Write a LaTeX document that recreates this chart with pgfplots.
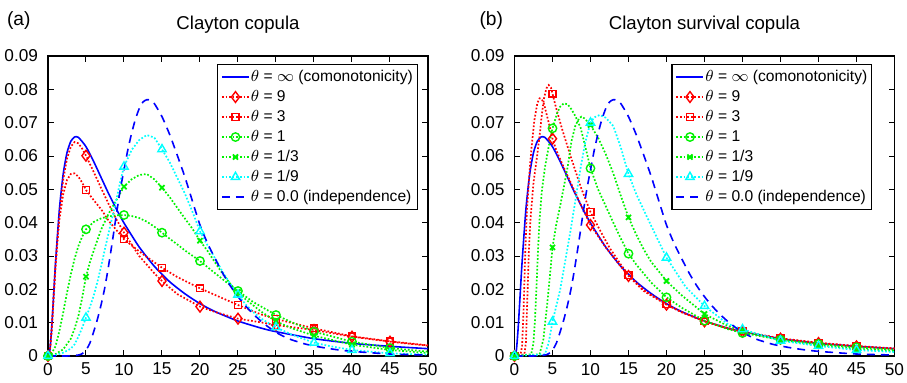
\documentclass[border=0pt]{standalone}
\usepackage{fontspec}
\setmainfont{Liberation Sans}
\usepackage{pgfplots}
\pgfplotsset{compat=1.18}
\definecolor{mgreen}{rgb}{0,0.95,0}
\definecolor{mcyan}{rgb}{0,1,1}
\definecolor{mred}{rgb}{1,0,0}
\definecolor{mblue}{rgb}{0,0,1}
\pgfplotsset{
  dotl/.style={line width=0.85pt, dash pattern=on 0.85pt off 0.95pt},
  soll/.style={line width=0.8pt, solid},
  dasl/.style={line width=0.8pt, dash pattern=on 4pt off 3pt},
  mkd/.style={only marks, mark=diamond, mark size=2.7pt, mark options={solid, line width=0.7pt}},
  mks/.style={only marks, mark=square, mark size=1.7pt, mark options={solid, line width=0.7pt}},
  mko/.style={only marks, mark=o, mark size=2.1pt, mark options={solid, line width=0.7pt}},
  mkx/.style={only marks, mark=x, mark size=1.8pt, mark options={solid, line width=0.9pt}},
  mkt/.style={only marks, mark=triangle, mark size=2.4pt, mark options={solid, line width=0.7pt}},
  myaxis/.style={
    width=190pt, height=150pt, scale only axis,
    xmin=0, xmax=50, ymin=0, ymax=0.09,
    xtick={0,5,10,15,20,25,30,35,40,45,50},
    ytick={0,0.01,0.02,0.03,0.04,0.05,0.06,0.07,0.08,0.09},
    tick align=inside, major tick length=2.8pt,
    axis line style={line width=0.6pt},
    every tick/.style={black, line width=0.5pt},
    scaled y ticks=false,
    yticklabel style={/pgf/number format/fixed, /pgf/number format/precision=2, xshift=-1.5pt},
    /pgf/number format/assume math mode=true,
    ticklabel style={font=\fontsize{8.6}{10}\selectfont},
    title style={at={(0.5,1)}, anchor=base, yshift=7.2pt, font=\fontsize{9.3}{11}\selectfont},
    clip=false,
    legend style={at={(1,1)}, anchor=north east, xshift=-5pt, yshift=-4pt,
      font=\fontsize{7.8}{9}\selectfont, draw=black, line width=0.6pt,
      inner sep=1.8pt, row sep=1.2pt,
      nodes={inner sep=0.5pt, text height=6pt, text depth=1.8pt}},
    legend cell align=left,
    legend image code/.code={\draw[mark repeat=2,mark phase=2,##1] plot coordinates {(0pt,0pt) (6.75pt,0pt) (13.5pt,0pt)};},
  }
}
\begin{document}
\begin{tikzpicture}
% ================= (a) =================
\begin{axis}[myaxis, name=a, title={Clayton copula}]
\addlegendimage{mblue, soll}
\addlegendentry{$\theta$ = $\infty$ (comonotonicity)}
\addlegendimage{mred, dotl, mark=diamond, mark size=2.7pt, mark options={solid, line width=0.7pt}}
\addlegendentry{$\theta$ = 9}
\addlegendimage{mred, dotl, mark=square, mark size=1.7pt, mark options={solid, line width=0.7pt}}
\addlegendentry{$\theta$ = 3}
\addlegendimage{mgreen, dotl, mark=o, mark size=2.1pt, mark options={solid, line width=0.7pt}}
\addlegendentry{$\theta$ = 1}
\addlegendimage{mgreen, dotl, mark=x, mark size=1.8pt, mark options={solid, line width=0.9pt}}
\addlegendentry{$\theta$ = 1/3}
\addlegendimage{mcyan, dotl, mark=triangle, mark size=2.4pt, mark options={solid, line width=0.7pt}}
\addlegendentry{$\theta$ = 1/9}
\addlegendimage{mblue, dasl}
\addlegendentry{$\theta$ = 0.0 (independence)}
% comonotonic
\addplot[forget plot, mblue, soll, smooth, tension=0.4] coordinates {(0,0) (0.25,0.0018) (0.5,0.009) (0.75,0.0186) (1,0.0282) (1.5,0.044) (2,0.0546) (2.5,0.061) (3,0.0644) (3.5,0.0657) (4,0.0656) (5,0.0628) (6,0.0584) (7,0.0535) (8,0.0486) (9,0.0441) (10,0.0399) (12,0.0327) (14,0.0269) (16,0.0223) (18,0.0187) (20,0.0157) (22,0.0133) (25,0.0105) (28,0.0084) (30,0.0073) (35,0.0052) (40,0.0038) (45,0.0029) (50,0.0022)};
% theta 9
\addplot[forget plot, mred, dotl] coordinates {(0,0) (0.25,0.0016) (0.5,0.0085) (0.75,0.018) (1,0.027) (1.5,0.042) (2,0.0528) (2.5,0.0592) (3,0.0628) (3.5,0.0642) (4,0.0638) (4.5,0.0622) (5,0.0601) (6,0.0553) (7,0.0503) (8,0.0455) (9,0.0410) (10,0.0370) (12,0.0300) (14,0.0248) (15,0.0225) (17,0.0186) (20,0.0148) (22,0.0132) (25,0.0112) (28,0.0101) (30,0.0093) (33,0.0084) (35,0.0078) (38,0.0066) (40,0.0058) (45,0.0043) (50,0.0031)};
\addplot[forget plot, mred, mkd] coordinates {(0,0) (5,0.0601) (10,0.037) (15,0.0225) (20,0.0148) (25,0.0112) (30,0.0093) (35,0.0078) (40,0.0058) (45,0.0043)};
% theta 3
\addplot[forget plot, mred, dotl] coordinates {(0,0) (0.25,0.0015) (0.5,0.008) (0.75,0.018) (1,0.028) (1.25,0.035) (1.5,0.041) (2,0.0485) (2.5,0.0528) (3,0.0546) (3.5,0.0548) (4,0.0538) (4.5,0.0520) (5,0.0498) (6,0.0468) (7,0.0440) (8,0.0405) (9,0.0378) (10,0.0350) (11,0.0332) (12,0.0314) (13,0.0297) (14,0.0281) (15,0.0265) (17,0.0237) (20,0.0203) (22,0.0183) (25,0.0153) (28,0.0125) (30,0.0111) (35,0.0083) (40,0.0059) (45,0.0044) (50,0.0032)};
\addplot[forget plot, mred, mks] coordinates {(0,0) (5,0.0498) (10,0.035) (15,0.0265) (20,0.0203) (25,0.0153) (30,0.0111) (35,0.0083) (40,0.0059) (45,0.0044)};
% theta 1
\addplot[forget plot, mgreen, dotl] coordinates {(0,0) (0.5,0.0008) (1,0.003) (1.5,0.0075) (2,0.013) (2.5,0.019) (3,0.0245) (3.5,0.0292) (4,0.0330) (4.5,0.0358) (5,0.0380) (6,0.0402) (7,0.0413) (8,0.0419) (9,0.0422) (10,0.0423) (11,0.0420) (12,0.0414) (13,0.0403) (14,0.0388) (15,0.0370) (16,0.0352) (17,0.0335) (18,0.0317) (20,0.0285) (22,0.0248) (24,0.0212) (25,0.0195) (27,0.0162) (30,0.0123) (32,0.0102) (35,0.0073) (40,0.0043) (45,0.0024) (50,0.0013)};
\addplot[forget plot, mgreen, mko] coordinates {(0,0) (5,0.038) (10,0.0423) (15,0.037) (20,0.0285) (25,0.0195) (30,0.0123) (35,0.0073) (40,0.0043) (45,0.0024)};
% theta 1/3
\addplot[forget plot, mgreen, dotl] coordinates {(0,0) (1,0.0006) (2,0.002) (3,0.0052) (3.5,0.0082) (4,0.012) (4.5,0.0175) (5,0.0238) (5.5,0.0280) (6,0.0315) (6.5,0.0348) (7,0.0380) (8,0.0428) (9,0.0468) (10,0.0508) (11,0.0530) (12,0.0543) (13,0.0546) (14,0.0530) (15,0.0505) (16,0.0477) (17,0.0445) (18,0.0413) (19,0.0382) (20,0.0346) (21,0.0315) (22,0.0280) (23,0.0246) (24,0.0216) (25,0.0192) (26,0.0170) (28,0.0134) (30,0.0104) (32,0.0084) (35,0.0061) (40,0.0034) (45,0.0018) (50,0.0009)};
\addplot[forget plot, mgreen, mkx] coordinates {(0,0) (5,0.0238) (10,0.0508) (15,0.0505) (20,0.0346) (25,0.0192) (30,0.0104) (35,0.0061) (40,0.0034) (45,0.0018)};
% theta 1/9
\addplot[forget plot, mcyan, dotl] coordinates {(0,0) (1,0.0003) (2,0.001) (3,0.0022) (3.5,0.0035) (4,0.0058) (4.5,0.0085) (5,0.0115) (5.5,0.0146) (6,0.0180) (6.5,0.0222) (7,0.0270) (7.5,0.0322) (8,0.0372) (8.5,0.0420) (9,0.0470) (9.5,0.0522) (10,0.0568) (11,0.0618) (12,0.0648) (13,0.0663) (14,0.0655) (15,0.0620) (16,0.0582) (17,0.0535) (18,0.0488) (19,0.0433) (20,0.0374) (21,0.0332) (22,0.0292) (23,0.0252) (24,0.0216) (25,0.0184) (26,0.0155) (27,0.0132) (28,0.0113) (29,0.0099) (30,0.0086) (32,0.0065) (34,0.0048) (35,0.0040) (37,0.0030) (40,0.0018) (45,0.0008) (50,0.0004)};
\addplot[forget plot, mcyan, mkt] coordinates {(0,0) (5,0.0115) (10,0.0568) (15,0.062) (20,0.0374) (25,0.0184) (30,0.0086) (35,0.004) (40,0.0018) (45,0.0008)};
% independence
\addplot[forget plot, mblue, dasl, smooth, tension=0.4] coordinates {(0,0) (2,0) (3,0.00005) (4,0.0003) (4.5,0.0007) (5,0.0018) (5.5,0.0038) (6,0.0072) (6.5,0.0110) (7,0.0155) (7.5,0.0208) (8,0.0275) (8.5,0.0348) (9,0.0425) (9.5,0.0498) (10,0.0558) (10.5,0.0618) (11,0.0668) (11.5,0.0710) (12,0.0742) (12.5,0.0762) (13,0.0769) (13.5,0.0767) (14,0.0757) (15,0.0718) (16,0.0665) (17,0.0603) (18,0.0538) (19,0.0465) (20,0.0393) (21,0.0338) (22,0.0292) (23,0.0248) (24,0.0210) (25,0.0178) (26,0.0150) (27,0.0126) (28,0.0105) (29,0.0087) (30,0.0071) (31,0.0059) (32,0.0049) (34,0.0035) (36,0.0026) (38,0.0019) (40,0.0014) (45,0.0006) (50,0.0003)};
\node[anchor=base west, xshift=-24pt, yshift=15.5pt, font=\fontsize{9.6}{11}\selectfont] at (rel axis cs:0,1) {(a)};
\end{axis}
% ================= (b) =================
\begin{axis}[myaxis, name=b, at={(233.25pt,0pt)}, title={Clayton survival copula}, legend style={xshift=-6pt}]
\addlegendimage{mblue, soll}
\addlegendentry{$\theta$ = $\infty$ (comonotonicity)}
\addlegendimage{mred, dotl, mark=diamond, mark size=2.7pt, mark options={solid, line width=0.7pt}}
\addlegendentry{$\theta$ = 9}
\addlegendimage{mred, dotl, mark=square, mark size=1.7pt, mark options={solid, line width=0.7pt}}
\addlegendentry{$\theta$ = 3}
\addlegendimage{mgreen, dotl, mark=o, mark size=2.1pt, mark options={solid, line width=0.7pt}}
\addlegendentry{$\theta$ = 1}
\addlegendimage{mgreen, dotl, mark=x, mark size=1.8pt, mark options={solid, line width=0.9pt}}
\addlegendentry{$\theta$ = 1/3}
\addlegendimage{mcyan, dotl, mark=triangle, mark size=2.4pt, mark options={solid, line width=0.7pt}}
\addlegendentry{$\theta$ = 1/9}
\addlegendimage{mblue, dasl}
\addlegendentry{$\theta$ = 0.0 (independence)}
% comonotonic
\addplot[forget plot, mblue, soll, smooth, tension=0.4] coordinates {(0,0) (0.25,0.0018) (0.5,0.009) (0.75,0.0186) (1,0.0282) (1.5,0.044) (2,0.0546) (2.5,0.061) (3,0.0644) (3.5,0.0657) (4,0.0656) (5,0.0628) (6,0.0584) (7,0.0535) (8,0.0486) (9,0.0441) (10,0.0399) (12,0.0327) (14,0.0269) (16,0.0223) (18,0.0187) (20,0.0157) (22,0.0133) (25,0.0105) (28,0.0084) (30,0.0073) (35,0.0052) (40,0.0038) (45,0.0029) (50,0.0022)};
% theta 9
\addplot[forget plot, mred, dotl] coordinates {(0,0) (0.8,0.0005) (1,0.003) (1.2,0.014) (1.4,0.030) (1.6,0.042) (1.9,0.053) (2.2,0.0615) (2.6,0.0705) (3,0.0758) (3.3,0.0773) (3.6,0.0770) (3.9,0.0755) (4.5,0.0700) (5,0.0652) (5.5,0.0617) (6.5,0.0565) (7.5,0.0515) (8.5,0.0465) (10,0.0393) (12,0.0326) (14,0.0268) (15,0.0240) (17,0.0195) (20,0.0154) (22,0.0131) (25,0.0104) (28,0.0083) (30,0.0073) (35,0.0052) (40,0.0039) (45,0.0029) (50,0.0022)};
\addplot[forget plot, mred, mkd] coordinates {(0,0) (5,0.0652) (10,0.0393) (15,0.0240) (20,0.0154) (25,0.0104) (30,0.0073) (35,0.0052) (40,0.0039) (45,0.0029)};
% theta 3
\addplot[forget plot, mred, dotl] coordinates {(0,0) (1.3,0.0005) (1.5,0.004) (1.7,0.018) (1.9,0.032) (2.1,0.041) (2.5,0.052) (3,0.0605) (3.3,0.066) (3.6,0.0725) (3.9,0.0775) (4.2,0.0803) (4.5,0.0813) (4.8,0.0805) (5,0.0787) (5.5,0.0742) (6.3,0.0678) (7.4,0.0598) (8.7,0.0508) (10,0.0432) (11.3,0.0375) (12.5,0.0325) (14,0.0274) (15,0.0243) (17,0.0198) (20,0.0155) (22,0.0132) (25,0.0104) (28,0.0084) (30,0.0074) (35,0.0053) (40,0.0040) (45,0.0030) (50,0.0023)};
\addplot[forget plot, mred, mks] coordinates {(0,0) (5,0.0787) (10,0.0432) (15,0.0243) (20,0.0155) (25,0.0104) (30,0.0074) (35,0.0053) (40,0.004) (45,0.003)};
% theta 1
\addplot[forget plot, mgreen, dotl] coordinates {(0,0) (2.2,0.0005) (2.5,0.004) (2.7,0.011) (2.9,0.021) (3.1,0.032) (3.3,0.041) (3.6,0.0495) (4,0.0565) (4.5,0.0628) (5,0.0683) (5.6,0.0728) (6,0.0748) (6.5,0.0758) (7,0.0755) (7.5,0.0740) (8,0.0720) (8.7,0.0685) (9.4,0.0620) (10,0.0563) (11,0.0500) (12,0.0450) (13,0.0400) (14,0.0352) (15,0.0307) (16,0.0275) (18,0.0220) (20,0.0176) (22,0.0145) (25,0.0106) (28,0.0081) (30,0.0069) (35,0.0049) (40,0.0036) (45,0.0026) (50,0.0019)};
\addplot[forget plot, mgreen, mko] coordinates {(0,0) (5,0.0683) (10,0.0563) (15,0.0307) (20,0.0176) (25,0.0106) (30,0.0069) (35,0.0049) (40,0.0036) (45,0.0026)};
% theta 1/3
\addplot[forget plot, mgreen, dotl] coordinates {(0,0) (3.3,0.0005) (3.8,0.005) (4.3,0.0155) (4.7,0.0250) (5,0.0326) (5.5,0.0395) (6,0.0450) (6.5,0.0508) (7,0.0568) (7.5,0.0645) (8,0.0690) (8.5,0.0713) (8.8,0.0718) (9.2,0.0713) (10,0.0693) (11,0.0655) (12,0.0606) (13,0.0548) (14,0.0480) (15,0.0416) (16,0.0365) (17,0.0320) (18,0.0282) (20,0.0225) (22,0.0182) (25,0.0126) (28,0.0091) (30,0.0075) (35,0.0047) (40,0.0032) (45,0.0022) (50,0.0015)};
\addplot[forget plot, mgreen, mkx] coordinates {(0,0) (5,0.0326) (10,0.0693) (15,0.0416) (20,0.0225) (25,0.0126) (30,0.0075) (35,0.0047) (40,0.0032) (45,0.0022)};
% theta 1/9
\addplot[forget plot, mcyan, dotl] coordinates {(0,0) (4,0.0005) (4.5,0.004) (5,0.0103) (5.5,0.0150) (6,0.0198) (6.7,0.0288) (7.4,0.0380) (8,0.0465) (8.7,0.0565) (9.3,0.0640) (10,0.0700) (10.5,0.0716) (11.2,0.0723) (12,0.0715) (13,0.0690) (14,0.0625) (15,0.0546) (16,0.0487) (17,0.0438) (18,0.0390) (20,0.0295) (22.5,0.0208) (25,0.0150) (28,0.0097) (30,0.0080) (35,0.0046) (40,0.0030) (45,0.0018) (50,0.0012)};
\addplot[forget plot, mcyan, mkt] coordinates {(0,0) (5,0.0103) (10,0.07) (15,0.0546) (20,0.0295) (25,0.015) (30,0.008) (35,0.0046) (40,0.003) (45,0.0018)};
% independence
\addplot[forget plot, mblue, dasl, smooth, tension=0.4] coordinates {(0,0) (2,0) (3,0.00005) (4,0.0003) (4.5,0.0007) (5,0.0018) (5.5,0.0038) (6,0.0072) (6.5,0.0110) (7,0.0155) (7.5,0.0208) (8,0.0275) (8.5,0.0348) (9,0.0425) (9.5,0.0498) (10,0.0558) (10.5,0.0618) (11,0.0668) (11.5,0.0710) (12,0.0742) (12.5,0.0762) (13,0.0769) (13.5,0.0767) (14,0.0757) (15,0.0718) (16,0.0665) (17,0.0603) (18,0.0538) (19,0.0465) (20,0.0393) (21,0.0338) (22,0.0292) (23,0.0248) (24,0.0210) (25,0.0178) (26,0.0150) (27,0.0126) (28,0.0105) (29,0.0087) (30,0.0071) (31,0.0059) (32,0.0049) (34,0.0035) (36,0.0026) (38,0.0019) (40,0.0014) (45,0.0006) (50,0.0003)};
\node[anchor=base west, xshift=-21pt, yshift=15.5pt, font=\fontsize{9.6}{11}\selectfont] at (rel axis cs:0,1) {(b)};
\end{axis}
\pgfresetboundingbox
\path[use as bounding box] (-24pt,-13pt) rectangle (429.5pt,178pt);
\end{tikzpicture}
\end{document}
